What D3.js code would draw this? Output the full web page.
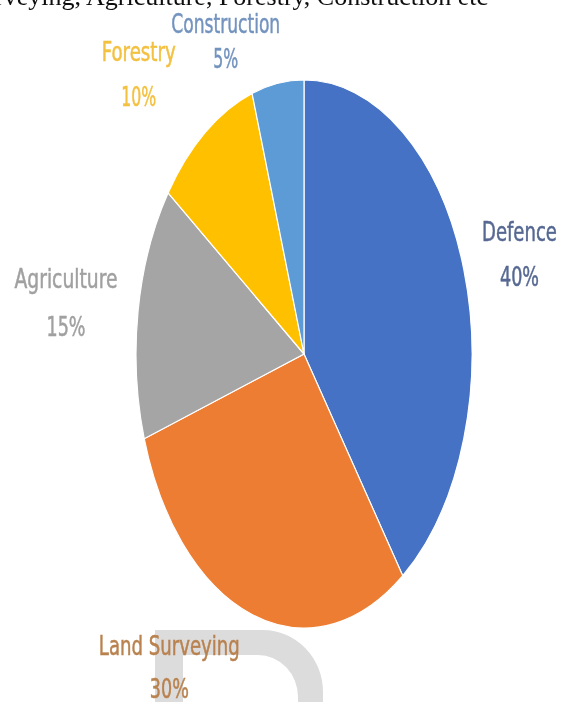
<!DOCTYPE html>
<html>
<head>
<meta charset="utf-8">
<script src="https://cdn.jsdelivr.net/npm/d3@7"></script>
<style>
  html, body { margin: 0; padding: 0; background: #ffffff; }
  svg { display: block; }
</style>
</head>
<body>
<svg id="chart" width="562" height="702"></svg>
<script>
// ---- data ----
const categories = ["Defence", "Land Surveying", "Agriculture", "Forestry", "Construction"];
const shares = [40, 30, 15, 10, 5];
const pctLabels = ["40%", "30%", "15%", "10%", "5%"];
const captionText = "Land Surveying, Agriculture, Forestry, Construction etc";

// ---- styles / layout ----
const sliceColors = ["#4472C4", "#ED7D31", "#A5A5A5", "#FFC000", "#5B9BD5"];
const labelColors = ["#566892", "#B9824F", "#A0A0A0", "#F3C040", "#7393BF"];
const W = 562, H = 702;
const cx = 304, cy = 354, rx = 168, ry = 274;
const labelRadius = 1.38;
// nudges applied to the label anchor computed from the slice mid angle
const labelNudge = {
  "Defence":        {dx: -5,  dy: 4,   w1: 75,  w2: 39, gap: 45},
  "Land Surveying": {dx: -63, dy: -59, w1: 141, w2: 39, gap: 43},
  "Agriculture":    {dx: -9,  dy: -7,  w1: 103, w2: 39, gap: 48},
  "Forestry":       {dx: -29, dy: 13,  w1: 74,  w2: 35, gap: 45},
  "Construction":   {dx: -42, dy: 52,  w1: 109, w2: 25, gap: 35}
};

const svg = d3.select("#chart");
const defs = svg.append("defs");
defs.append("filter").attr("id", "soft")
  .attr("x", "-5%").attr("y", "-5%").attr("width", "110%").attr("height", "110%")
  .append("feGaussianBlur").attr("stdDeviation", 0.7);

const root = svg.append("g").attr("filter", "url(#soft)");

// caption line cut off at the top
root.append("text")
  .attr("x", 488).attr("y", 5)
  .attr("text-anchor", "end")
  .attr("font-family", "'Liberation Serif', 'Times New Roman', serif")
  .attr("font-size", 26)
  .attr("fill", "#111")
  .text(captionText);

// faint watermark shape at the bottom
root.append("path")
  .attr("d", "M155,702 V630 H263 A60,62 0 0 1 323,692 V702 Z M183,702 V655 H258 A40,42 0 0 1 298,697 V702 Z")
  .attr("fill", "#dcdcdc")
  .attr("fill-rule", "evenodd");

const data = categories.map((c, i) => ({cat: c, value: shares[i], pct: pctLabels[i], color: sliceColors[i], lc: labelColors[i]}));

const pie = d3.pie().sort(null).value(d => d.value).startAngle(0).endAngle(2 * Math.PI);
const arcs = pie(data);
const arc = d3.arc().innerRadius(0).outerRadius(rx);

const pieG = root.append("g")
  .attr("transform", `translate(${cx},${cy}) scale(1,${ry / rx})`);

pieG.selectAll("path.slice")
  .data(arcs)
  .join("path")
  .attr("class", "slice")
  .attr("d", arc)
  .attr("fill", d => d.data.color)
  .attr("stroke", "#ffffff")
  .attr("stroke-width", 1.2)
  .attr("vector-effect", "non-scaling-stroke");

// labels
const font = "'Liberation Sans Narrow', 'DejaVu Sans Condensed', 'Roboto Condensed', sans-serif";
const labelG = root.append("g");
arcs.forEach(a => {
  const mid = (a.startAngle + a.endAngle) / 2;
  const n = labelNudge[a.data.cat];
  const x = cx + Math.sin(mid) * labelRadius * rx + n.dx;
  const y = cy - Math.cos(mid) * labelRadius * ry + n.dy;
  const t = labelG.append("text")
    .attr("font-family", font)
    .attr("font-size", 27)
    .attr("fill", a.data.lc)
    .attr("stroke", a.data.lc)
    .attr("stroke-width", 0.5)
    .attr("text-anchor", "middle");
  t.append("tspan").attr("x", x).attr("y", y)
    .attr("textLength", n.w1).attr("lengthAdjust", "spacingAndGlyphs")
    .text(a.data.cat);
  t.append("tspan").attr("x", x).attr("y", y + n.gap)
    .attr("textLength", n.w2).attr("lengthAdjust", "spacingAndGlyphs")
    .text(a.data.pct);
});
</script>
</body>
</html>
